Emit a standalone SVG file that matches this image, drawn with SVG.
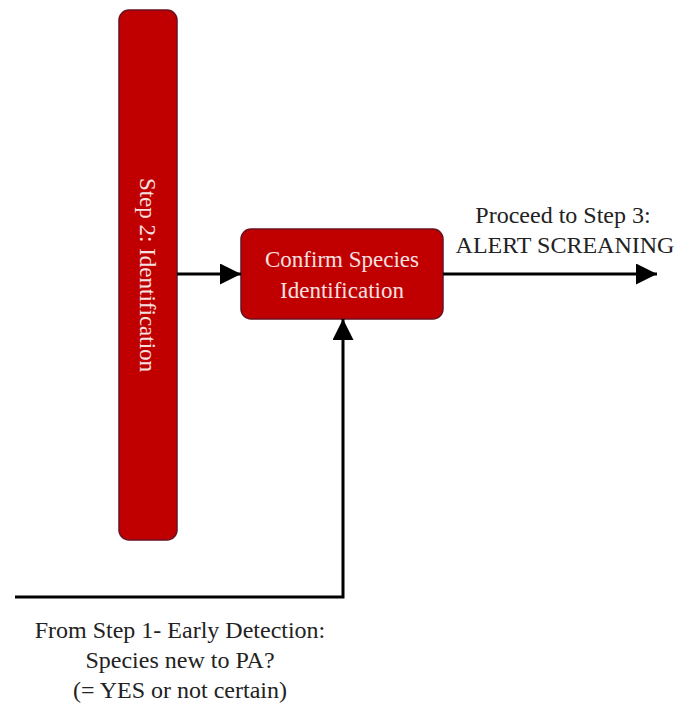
<svg xmlns="http://www.w3.org/2000/svg" width="677" height="705" viewBox="0 0 677 705">
  <style>
    .box { fill: #c00000; stroke: #6a1020; stroke-width: 1.5; }
    .boxText { font-size: 23px; fill: #f6e0e0; text-anchor: middle; }
    .label { font-size: 24px; fill: #222222; text-anchor: middle; }
    .conn { fill: none; stroke: #000000; stroke-width: 3; }
  </style>
  <defs>
    <marker id="arrow" viewBox="0 0 10 10" refX="10" refY="5" markerWidth="7" markerHeight="7" markerUnits="strokeWidth" orient="auto">
      <path d="M0,0 L10,5 L0,10 Z" fill="#000000"/>
    </marker>
  </defs>
  <rect width="677" height="705" fill="#ffffff"/>

  <g font-family="Liberation Serif, Times New Roman, serif">
    <g id="step2">
      <rect class="box" x="119" y="10" width="58" height="530" rx="10" ry="10"/>
      <text class="boxText" font-family="Liberation Serif" transform="translate(140,275) rotate(90)">Step 2: Identification</text>
    </g>

    <g id="confirm">
      <rect class="box" x="241" y="229" width="202" height="90" rx="10" ry="10"/>
      <text class="boxText" font-family="Liberation Serif" x="342" y="267">Confirm Species</text>
      <text class="boxText" font-family="Liberation Serif" x="342" y="298">Identification</text>
    </g>

    <g id="proceed">
      <text class="label" font-family="Liberation Serif" x="563" y="223">Proceed to Step 3:</text>
      <text class="label" font-family="Liberation Serif" x="565" y="253">ALERT SCREANING</text>
    </g>

    <g id="from-step1">
      <text class="label" font-family="Liberation Serif" x="180" y="638">From Step 1- Early Detection:</text>
      <text class="label" font-family="Liberation Serif" x="180" y="668">Species new to PA?</text>
      <text class="label" font-family="Liberation Serif" x="180" y="698">(= YES or not certain)</text>
    </g>
  </g>

  <g id="connectors">
    <line class="conn" x1="177" y1="274" x2="241" y2="274" marker-end="url(#arrow)"/>
    <line class="conn" x1="443" y1="274" x2="657" y2="274" marker-end="url(#arrow)"/>
    <polyline class="conn" points="15,597 343,597 343,319" marker-end="url(#arrow)"/>
  </g>
</svg>
